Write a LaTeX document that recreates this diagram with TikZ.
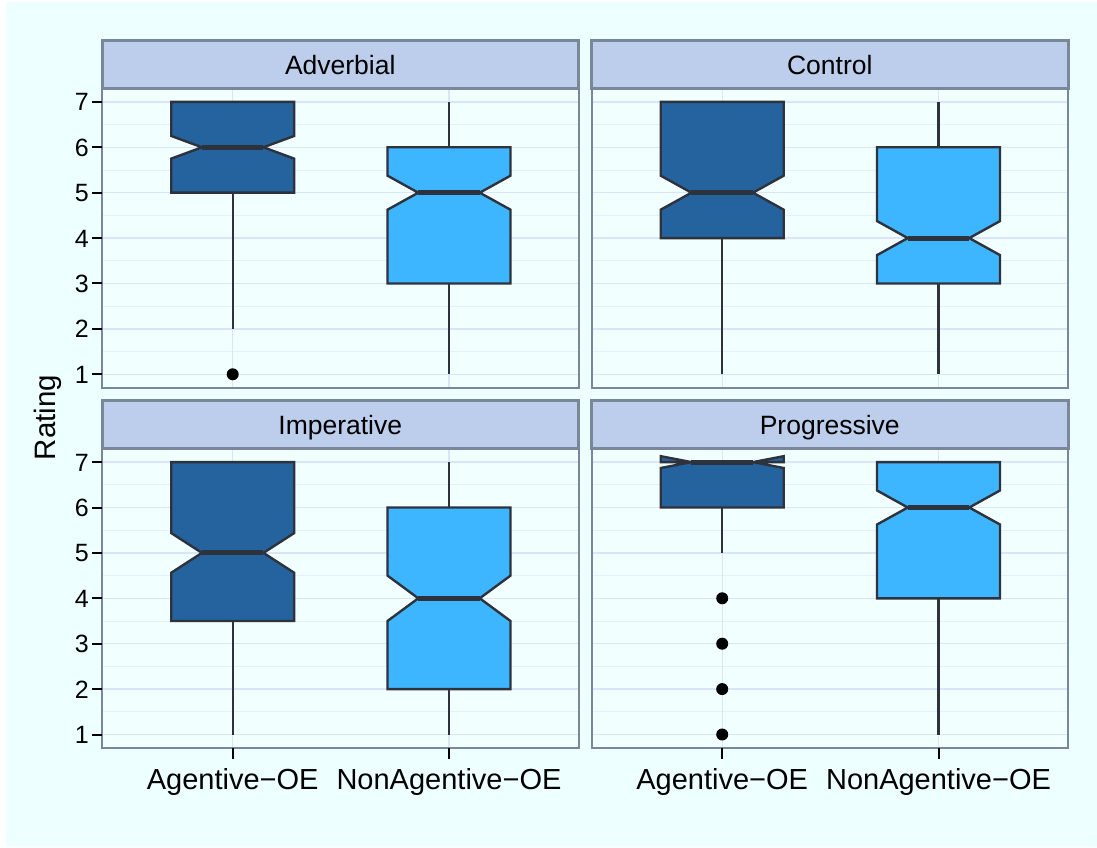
\documentclass[tikz,border=0pt]{standalone}
\usepackage{fontspec}
\setmainfont{Liberation Sans}
\usepackage{xcolor}
\usepackage{tikz}
\usetikzlibrary{positioning}

\definecolor{bgcyan}{RGB}{238,255,255}
\definecolor{panelbg}{RGB}{241,255,255}
\definecolor{stripfill}{RGB}{188,206,236}
\definecolor{framegrey}{RGB}{122,135,155}
\definecolor{gridmaj}{RGB}{217,230,250}
\definecolor{gridmin}{RGB}{229,240,252}
\definecolor{agblue}{RGB}{36,99,158}
\definecolor{nonblue}{RGB}{62,182,255}
\definecolor{boxline}{RGB}{45,50,60}

% panel backdrop: strip name, strip text
\newcommand{\panelbase}[2]{%
  \fill[panelbg] (0,0.7) rectangle (476.5,7.3);
  \foreach \v in {1.5,2.5,...,6.5} \draw[gridminor] (0,\v) -- (476.5,\v);
  \foreach \v in {1,...,7} \draw[gridmajor] (0,\v) -- (476.5,\v);
  \foreach \c in {130.7,347} \draw[gridmajor] (\c,0.7) -- (\c,7.3);
  \draw[panelframe] (0,0.7) rectangle (476.5,7.3);
  \node[stripbox] (#1) at (0,7.3) {};
  \node[striplbl] (#1-lbl) at ([yshift=-9.5pt]#1.center) {#2};
}

% notched box: x, lower whisker, Q1, median, Q3, upper whisker, notch, fill
\newcommand{\notchbox}[8]{%
  \draw[whisk] (#1,#2) -- (#1,#3);
  \draw[whisk] (#1,#5) -- (#1,#6);
  \filldraw[boxbody, fill=#8]
    (#1-61.5,#5) -- (#1-61.5,#4+#7) -- (#1-30.75,#4) -- (#1-61.5,#4-#7) -- (#1-61.5,#3)
    -- (#1+61.5,#3) -- (#1+61.5,#4-#7) -- (#1+30.75,#4) -- (#1+61.5,#4+#7) -- (#1+61.5,#5) -- cycle;
  \draw[medline] (#1-30.75,#4) -- (#1+30.75,#4);
}

\begin{document}
\begin{tikzpicture}[
  x=1pt, y=45.4pt,
  gridmajor/.style={draw=gridmaj, line width=1.3pt},
  gridminor/.style={draw=gridmin, line width=0.9pt},
  panelframe/.style={draw=framegrey, line width=2pt},
  stripbox/.style={draw=framegrey, fill=stripfill, line width=3pt, anchor=south west,
    minimum width=476.5pt, minimum height=47.5pt, inner sep=0pt, outer sep=0pt},
  striplbl/.style={anchor=base, inner sep=0pt, font=\fontsize{26.5}{30}\selectfont},
  whisk/.style={draw=boxline, line width=2.4pt},
  boxbody/.style={draw=boxline, line width=2.4pt, line join=miter},
  medline/.style={draw=boxline, line width=5pt},
  outlier/.style={fill=black},
  tickmark/.style={draw=black, line width=2pt},
  yticklbl/.style={anchor=base east, inner sep=0pt, xshift=-13pt, yshift=-9pt,
    font=\fontsize{25}{30}\selectfont},
  xticklbl/.style={anchor=base, inner sep=0pt, yshift=-41pt,
    font=\fontsize{29}{34}\selectfont},
  axtitle/.style={anchor=base, inner sep=0pt, rotate=90,
    font=\fontsize{29.5}{34}\selectfont}
]

% ---- page background ----
\fill[white] (0pt,0pt) rectangle (1097pt,847pt);
\fill[bgcyan] (6pt,0pt) rectangle (1097pt,845pt);
\useasboundingbox (0pt,0pt) rectangle (1097pt,847pt);

% ---- Adverbial (top left) ----
\begin{scope}[shift={(102pt,427.3pt)}]
  \panelbase{adv}{Adverbial}
  \foreach \v in {1,...,7} {
    \draw[tickmark] (0,\v) -- ++(-10pt,0);
    \node[yticklbl] (adv-y\v) at (0,\v) {\v};
  }
  \notchbox{130.7}{2}{5}{6}{7}{7}{0.25}{agblue}
  \fill[outlier] (130.7,1) circle[radius=6pt];
  \notchbox{347}{1}{3}{5}{6}{7}{0.375}{nonblue}
\end{scope}

% ---- Control (top right) ----
\begin{scope}[shift={(591.5pt,427.3pt)}]
  \panelbase{ctl}{Control}
  \notchbox{130.7}{1}{4}{5}{7}{7}{0.375}{agblue}
  \notchbox{347}{1}{3}{4}{6}{7}{0.375}{nonblue}
\end{scope}

% ---- Imperative (bottom left) ----
\begin{scope}[shift={(102pt,67.1pt)}]
  \panelbase{imp}{Imperative}
  \foreach \v in {1,...,7} {
    \draw[tickmark] (0,\v) -- ++(-10pt,0);
    \node[yticklbl] (imp-y\v) at (0,\v) {\v};
  }
  \foreach \c in {130.7,347} \draw[tickmark] (\c,0.7) -- ++(0,-11pt);
  \node[xticklbl] (imp-x1) at (130.7,0.7) {Agentive−OE};
  \node[xticklbl] (imp-x2) at (347,0.7) {NonAgentive−OE};
  \notchbox{130.7}{1}{3.5}{5}{7}{7}{0.4375}{agblue}
  \notchbox{347}{1}{2}{4}{6}{7}{0.5}{nonblue}
\end{scope}

% ---- Progressive (bottom right) ----
\begin{scope}[shift={(591.5pt,67.1pt)}]
  \panelbase{prg}{Progressive}
  \foreach \c in {130.7,347} \draw[tickmark] (\c,0.7) -- ++(0,-11pt);
  \node[xticklbl] (prg-x1) at (130.7,0.7) {Agentive−OE};
  \node[xticklbl] (prg-x2) at (347,0.7) {NonAgentive−OE};
  \notchbox{130.7}{5}{6}{7}{7}{7}{0.13}{agblue}
  \foreach \o in {1,...,4} \fill[outlier] (130.7,\o) circle[radius=6pt];
  \notchbox{347}{1}{4}{6}{7}{7}{0.375}{nonblue}
\end{scope}

% ---- axis title ----
\node[axtitle] (ytitle) at (55.5pt,429.5pt) {Rating};

\end{tikzpicture}
\end{document}
